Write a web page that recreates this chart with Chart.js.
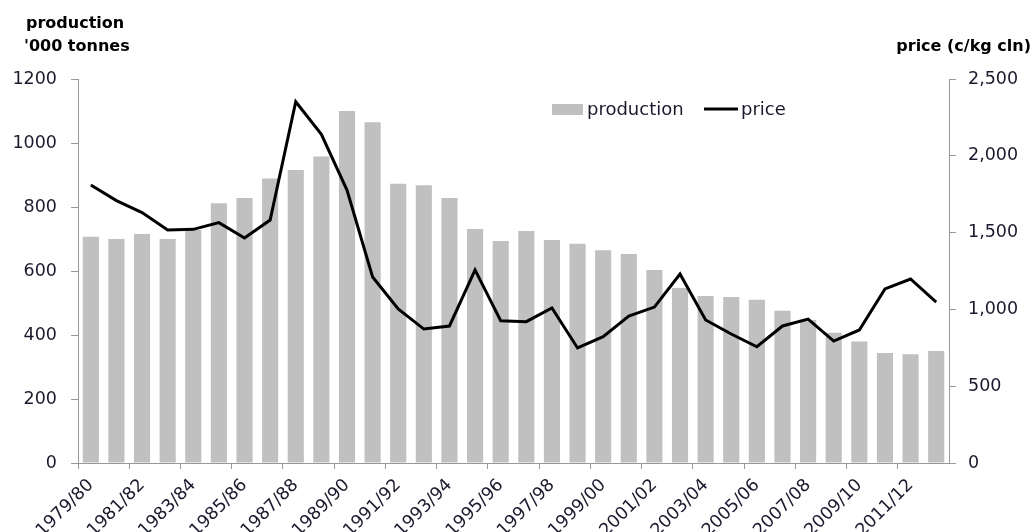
<!DOCTYPE html>
<html>
<head>
<meta charset="utf-8">
<script src="https://cdn.jsdelivr.net/npm/chart.js@4"></script>
<style>
html,body{margin:0;padding:0;background:#fff;overflow:hidden;}
canvas{display:block;}
</style>
</head>
<body>
<canvas id="chart" width="1032" height="532"></canvas>
<script>
const seasons=["1979/80","1980/81","1981/82","1982/83","1983/84","1984/85","1985/86","1986/87","1987/88","1988/89",
"1989/90","1990/91","1991/92","1992/93","1993/94","1994/95","1995/96","1996/97","1997/98","1998/99",
"1999/00","2000/01","2001/02","2002/03","2003/04","2004/05","2005/06","2006/07","2007/08","2008/09",
"2009/10","2010/11","2011/12","2012/13"];
const production=[707,700,716,700,728,812,828,889,916,958,
1100,1065,873,868,828,731,694,725,697,685,
665,653,603,547,522,519,510,476,447,407,
380,344,340,350];
const price=[1810,1708,1630,1517,1521,1565,1465,1582,2352,2140,
1777,1211,1003,872,892,1257,926,920,1009,749,
822,957,1015,1230,931,840,757,892,937,794,
866,1133,1198,1048];

const tickFont={family:"DejaVu Sans",size:17.5};
const tickColor="#1a1a2e";
const axisGray="#999999";

// titles + legend drawn over the chart
const extras={
  id:"extras",
  afterDraw(chart){
    const c=chart.ctx;
    c.save();
    c.fillStyle="#000";
    c.font="bold 16px 'DejaVu Sans'";
    c.textBaseline="alphabetic";
    c.textAlign="left";
    c.fillText("production",26,28);
    c.fillText("'000 tonnes",24,51);
    c.textAlign="right";
    c.fillText("price (c/kg cln)",1031,51);
    // legend
    c.fillStyle="#c0c0c0";
    c.fillRect(552,104,31,11);
    c.fillStyle=tickColor;
    c.font="18px 'DejaVu Sans'";
    c.textAlign="left";
    c.textBaseline="middle";
    c.fillText("production",587,110);
    c.strokeStyle="#000";
    c.lineWidth=3;
    c.beginPath();c.moveTo(704,109);c.lineTo(738,109);c.stroke();
    c.fillText("price",741,110);
    c.restore();
  }
};

new Chart(document.getElementById("chart"),{
  type:"bar",
  data:{
    labels:seasons,
    datasets:[
      {type:"line",label:"price",data:price,yAxisID:"y1",borderColor:"#000",borderWidth:3,
       pointRadius:0,tension:0,fill:false,order:0},
      {type:"bar",label:"production",data:production,yAxisID:"y",backgroundColor:"#c0c0c0",
       barPercentage:0.63,categoryPercentage:1,order:1}
    ]
  },
  options:{
    responsive:false,
    animation:false,
    devicePixelRatio:1,
    layout:{padding:{top:79,left:0,right:0,bottom:0}},
    plugins:{legend:{display:false},tooltip:{enabled:false}},
    scales:{
      x:{
        offset:true,
        afterFit(s){s.height=69;},
        grid:{offset:true,drawOnChartArea:false,tickLength:6,
          color:ctx=>ctx.index%2===0?axisGray:"rgba(0,0,0,0)"},
        border:{color:axisGray,width:1},
        ticks:{autoSkip:false,maxRotation:45,minRotation:45,font:tickFont,color:tickColor,padding:6,
          callback:function(v,i){return i%2===0?this.getLabelForValue(v):"";}}
      },
      y:{
        position:"left",min:0,max:1200,
        afterFit(s){s.width=78;},
        grid:{drawOnChartArea:false,tickLength:7,color:axisGray},
        border:{color:axisGray},
        ticks:{stepSize:200,font:tickFont,color:tickColor,padding:14,callback:v=>String(v)}
      },
      y1:{
        position:"right",min:0,max:2500,
        afterFit(s){s.width=83;},
        grid:{drawOnChartArea:false,tickLength:7,color:axisGray},
        border:{color:axisGray},
        ticks:{stepSize:500,font:tickFont,color:tickColor,padding:12,
          callback:v=>v.toLocaleString("en-US")}
      }
    }
  },
  plugins:[extras]
});
</script>
</body>
</html>
